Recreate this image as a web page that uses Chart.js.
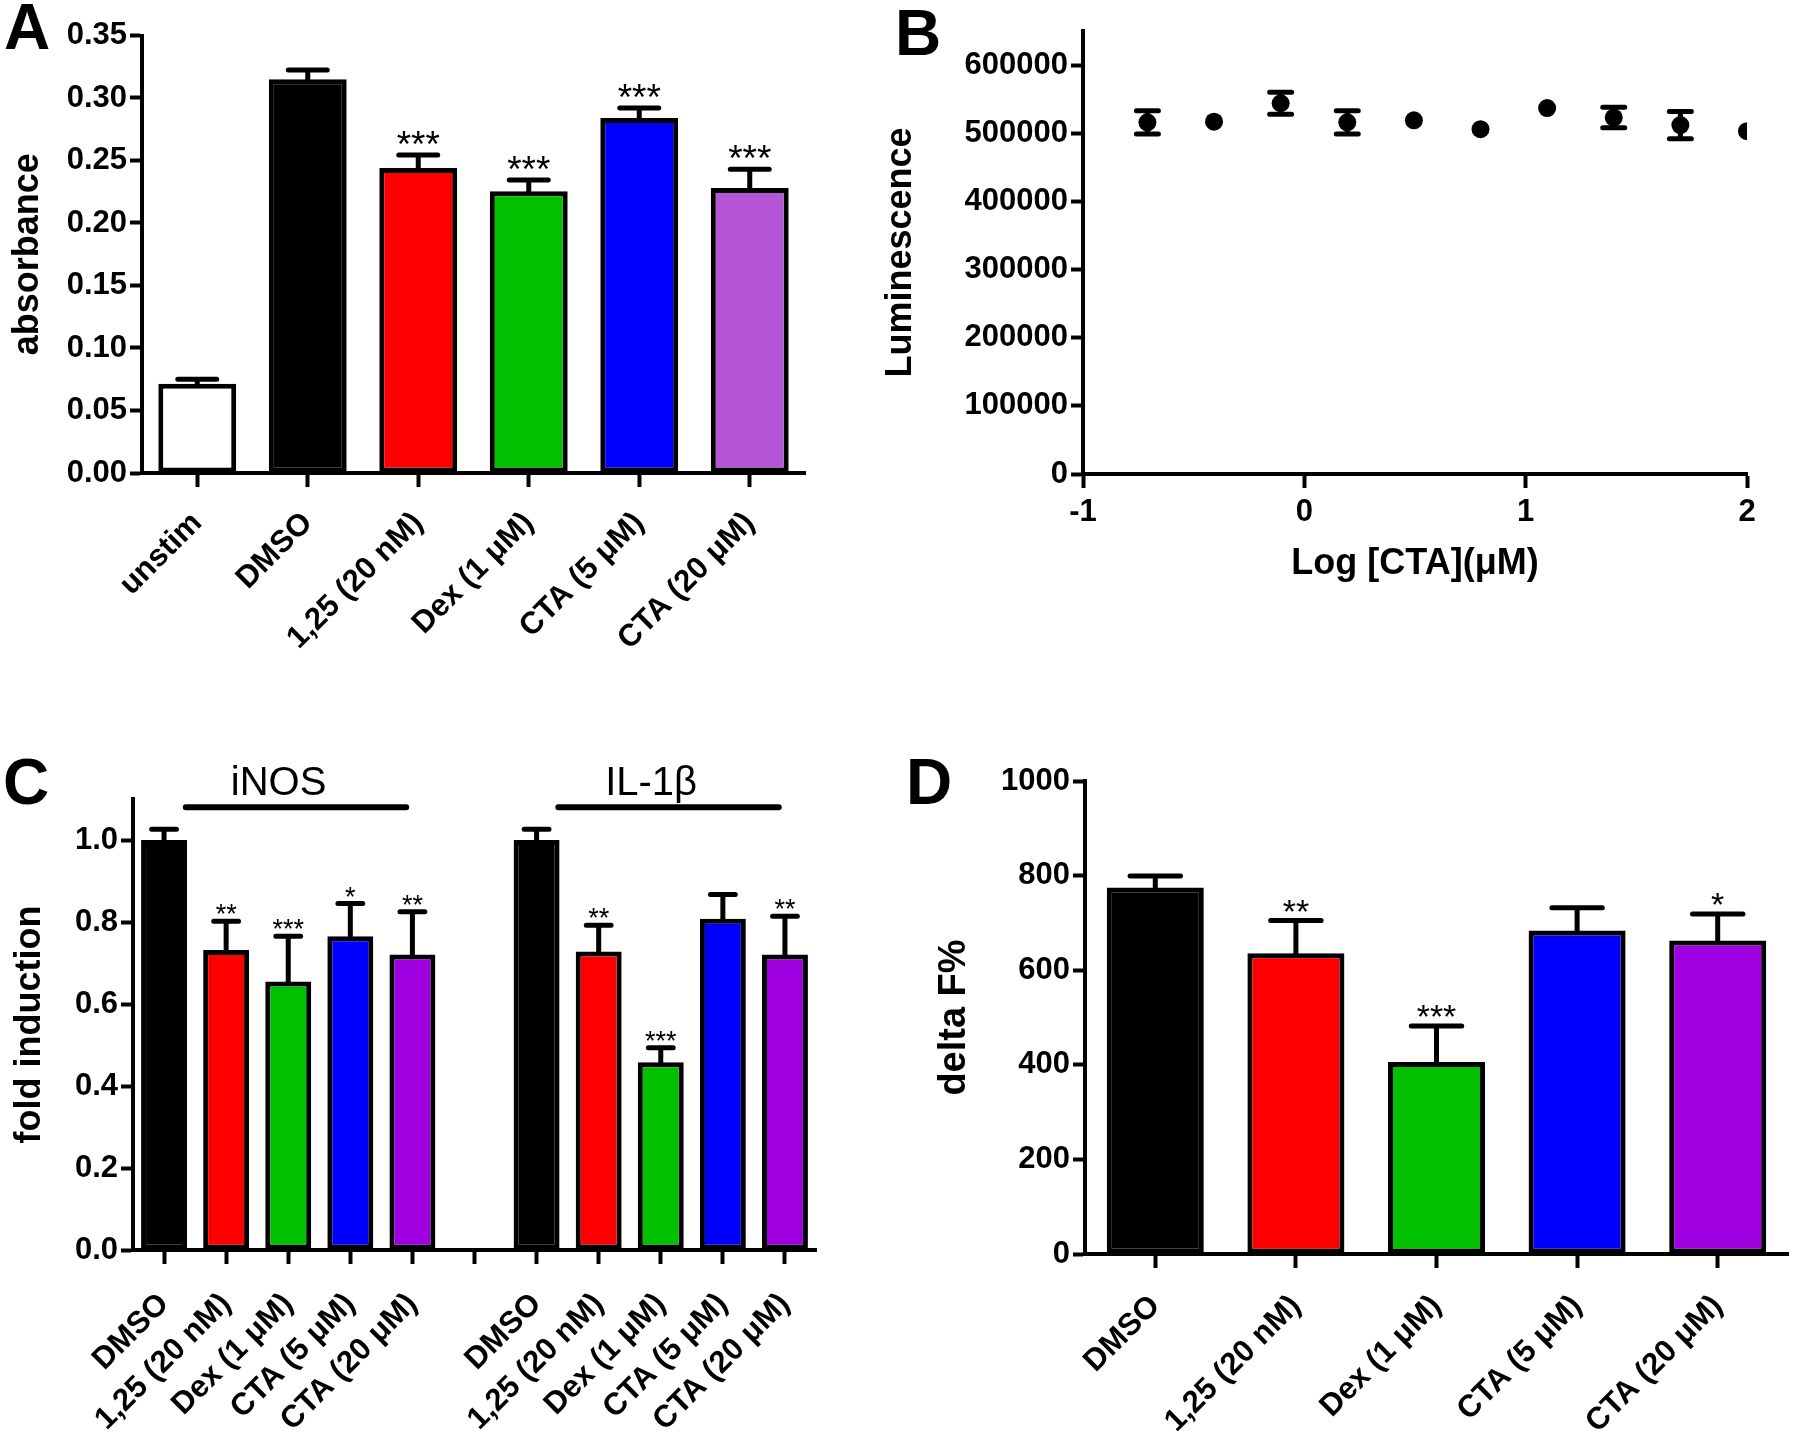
<!DOCTYPE html>
<html lang="en">
<head>
<meta charset="UTF-8">
<title>CTA figure</title>
<script src="https://cdn.jsdelivr.net/npm/chart.js"></script>
<style>
  body { margin: 0; background: #fff; }
  #fig { position: relative; width: 1800px; height: 1448px; overflow: hidden; background: #fff; }
  canvas { position: absolute; }
  .lbl { position: absolute; font: bold 64px 'Liberation Sans', Arial, sans-serif; line-height: 1; color: #000; }
</style>
</head>
<body>
<div id="fig">
  <canvas id="chartA" width="880" height="740" style="left:0;top:0"></canvas>
  <canvas id="chartB" width="940" height="640" style="left:860px;top:0"></canvas>
  <canvas id="chartC" width="880" height="708" style="left:0;top:740px"></canvas>
  <canvas id="chartD" width="920" height="708" style="left:880px;top:740px"></canvas>
  <div class="lbl" style="left:4px;top:-5px">A</div>
  <div class="lbl" style="left:895px;top:1px">B</div>
  <div class="lbl" style="left:3px;top:750px">C</div>
  <div class="lbl" style="left:906px;top:750px">D</div>
</div>
<script>
// panel A - absorbance
const catsA = ['unstim', 'DMSO', '1,25 (20 nM)', 'Dex (1 μM)', 'CTA (5 μM)', 'CTA (20 μM)'];
const valsA = [0.0715, 0.315, 0.244, 0.2255, 0.284, 0.228];
const errA = [0.0035, 0.0075, 0.0105, 0.009, 0.008, 0.015];
const starsA = ['', '', '***', '***', '***', '***'];
const colorsA = ['#ffffff', '#000000', '#ff0000', '#00c000', '#0000ff', '#b455d6'];
const ticksA = [0, 0.05, 0.10, 0.15, 0.20, 0.25, 0.30, 0.35];

// panel B - luminescence vs log conc
const logCTA = [-0.709, -0.408, -0.107, 0.194, 0.495, 0.796, 1.097, 1.398, 1.699, 2.0];
const lumi = [516000, 517000, 544000, 516000, 519000, 506000, 537000, 523000, 512000, 503000];
const lumiErr = [17000, 0, 16000, 17000, 0, 0, 0, 15000, 20000, 0];
const ticksB = [0, 100000, 200000, 300000, 400000, 500000, 600000];
const ticksBx = [-1, 0, 1, 2];

// panel C - fold induction, two genes
const catsC = ['DMSO', '1,25 (20 nM)', 'Dex (1 μM)', 'CTA (5 μM)', 'CTA (20 μM)', '',
               'DMSO', '1,25 (20 nM)', 'Dex (1 μM)', 'CTA (5 μM)', 'CTA (20 μM)'];
const valsC = [1.0, 0.732, 0.655, 0.765, 0.721, null, 1.0, 0.728, 0.458, 0.808, 0.721];
const errC = [0.026, 0.07, 0.11, 0.08, 0.104, 0, 0.026, 0.064, 0.035, 0.059, 0.093];
const starsC = ['', '**', '***', '*', '**', '', '', '**', '***', '', '**'];
const colorsC = ['#000000', '#ff0000', '#00c000', '#0000ff', '#a000e0', '#ffffff',
                 '#000000', '#ff0000', '#00c000', '#0000ff', '#a000e0'];
const ticksC = [0, 0.2, 0.4, 0.6, 0.8, 1.0];
const groupNames = ['iNOS', 'IL-1β'];
const groupSpans = [[0, 4], [6, 10]];

// panel D - delta F%
const catsD = ['DMSO', '1,25 (20 nM)', 'Dex (1 μM)', 'CTA (5 μM)', 'CTA (20 μM)'];
const valsD = [775, 636, 406, 684, 663];
const errD = [24, 69, 76, 48, 56];
const starsD = ['', '**', '***', '', '*'];
const colorsD = ['#000000', '#ff0000', '#00c000', '#0000ff', '#a000e0'];
const ticksD = [0, 200, 400, 600, 800, 1000];

const FONT = "'Liberation Sans', Arial, sans-serif";
Chart.defaults.font.family = FONT;
Chart.defaults.color = '#000';
Chart.defaults.animation = false;
Chart.defaults.plugins.legend.display = false;
Chart.defaults.plugins.tooltip.enabled = false;

function yAxis(min, max, tickVals, width, fmt, title, titleSize, titlePad) {
  return {
    min: min, max: max,
    afterFit: s => { s.width = width; },
    afterBuildTicks: s => { s.ticks = tickVals.map(v => ({ value: v })); },
    border: { display: true, color: '#000', width: 4 },
    grid: { drawOnChartArea: false, drawTicks: true, tickLength: 12, tickWidth: 4, tickColor: '#000' },
    ticks: { padding: 3, color: '#000', font: { size: 31, weight: 'bold' }, callback: fmt },
    title: { display: true, text: title, color: '#000', font: { size: titleSize, weight: 'bold' }, padding: { top: titlePad, bottom: 0 } }
  };
}

function xCat(height, pad) {
  return {
    afterFit: s => { s.height = height; },
    border: { display: true, color: '#000', width: 4 },
    grid: { offset: false, drawOnChartArea: false, drawTicks: true, tickLength: 14, tickWidth: 4, tickColor: '#000' },
    ticks: { minRotation: 45, maxRotation: 45, autoSkip: false, padding: pad, color: '#000', font: { size: 31, weight: 'bold' } }
  };
}

// error bar (upper only) + significance stars over bars
function barExtras(errs, stars, capFrac, starSize) {
  return {
    id: 'barExtras',
    afterDatasetsDraw(chart) {
      const ctx = chart.ctx, y = chart.scales.y;
      const ds = chart.data.datasets[0];
      const meta = chart.getDatasetMeta(0);
      ctx.save();
      ctx.strokeStyle = '#000';
      ctx.fillStyle = '#000';
      ctx.lineWidth = 5;
      ctx.lineCap = 'round';
      meta.data.forEach((bar, i) => {
        const v = ds.data[i];
        if (v == null) return;
        const top = y.getPixelForValue(v);
        const capY = y.getPixelForValue(v + errs[i]);
        const half = bar.width * capFrac / 2;
        ctx.beginPath();
        ctx.moveTo(bar.x, top);
        ctx.lineTo(bar.x, capY);
        ctx.moveTo(bar.x - half, capY);
        ctx.lineTo(bar.x + half, capY);
        ctx.stroke();
        if (stars[i]) {
          ctx.font = starSize + 'px ' + FONT;
          ctx.textAlign = 'center';
          ctx.textBaseline = 'alphabetic';
          ctx.fillText(stars[i], bar.x, capY + 2);
        }
      });
      ctx.restore();
    }
  };
}

function barSet(vals, colors, pct) {
  return [{ data: vals, backgroundColor: colors, borderColor: '#000', borderWidth: 5,
            borderSkipped: false, barPercentage: pct, categoryPercentage: 1 }];
}

// A
new Chart(document.getElementById('chartA'), {
  type: 'bar',
  data: { labels: catsA, datasets: barSet(valsA, colorsA, 0.705) },
  options: {
    responsive: false, devicePixelRatio: 1,
    layout: { padding: { left: 0, top: 35.5, right: 75, bottom: 0 } },
    scales: {
      x: xCat(267, 18),
      y: yAxis(0, 0.35, ticksA, 142, v => v.toFixed(2), 'absorbance', 36, 6)
    }
  },
  plugins: [barExtras(errA, starsA, 0.5, 37)]
});

// B
const errPlugin = {
  id: 'errB',
  afterDatasetsDraw(chart) {
    const ctx = chart.ctx, x = chart.scales.x, y = chart.scales.y;
    ctx.save();
    ctx.strokeStyle = '#000';
    ctx.lineWidth = 5;
    ctx.lineCap = 'round';
    logCTA.forEach((lx, i) => {
      if (!lumiErr[i]) return;
      const px = x.getPixelForValue(lx);
      const lo = y.getPixelForValue(lumi[i] - lumiErr[i]);
      const hi = y.getPixelForValue(lumi[i] + lumiErr[i]);
      ctx.beginPath();
      ctx.moveTo(px, lo); ctx.lineTo(px, hi);
      ctx.moveTo(px - 11, lo); ctx.lineTo(px + 11, lo);
      ctx.moveTo(px - 11, hi); ctx.lineTo(px + 11, hi);
      ctx.stroke();
    });
    ctx.restore();
  }
};

new Chart(document.getElementById('chartB'), {
  type: 'scatter',
  data: { datasets: [{ data: logCTA.map((v, i) => ({ x: v, y: lumi[i] })),
                       pointRadius: 9, pointBackgroundColor: '#000', pointBorderWidth: 0 }] },
  options: {
    responsive: false, devicePixelRatio: 1,
    layout: { padding: { left: 0, top: 31, right: 53, bottom: 0 } },
    scales: {
      x: {
        type: 'linear', min: -1, max: 2,
        afterFit: s => { s.height = 166; },
        afterBuildTicks: s => { s.ticks = ticksBx.map(v => ({ value: v })); },
        border: { display: true, color: '#000', width: 4 },
        grid: { drawOnChartArea: false, drawTicks: true, tickLength: 14, tickWidth: 4, tickColor: '#000' },
        ticks: { padding: 6, color: '#000', font: { size: 31, weight: 'bold' }, callback: v => String(v) },
        title: { display: true, text: 'Log [CTA](μM)', color: '#000', font: { size: 36, weight: 'bold' }, padding: { top: 0, bottom: 54 } }
      },
      y: yAxis(0, 650000, ticksB, 223, v => String(v), 'Luminescence', 36, 19)
    }
  },
  plugins: [errPlugin]
});

// C
const groupPlugin = {
  id: 'groups',
  afterDraw(chart) {
    const ctx = chart.ctx, x = chart.scales.x, y = chart.scales.y;
    const step = x.getPixelForTick(1) - x.getPixelForTick(0);
    const ly = y.getPixelForValue(1.08);
    ctx.save();
    groupNames.forEach((name, g) => {
      const x0 = x.getPixelForTick(groupSpans[g][0]) + 0.35 * step;
      const x1 = x.getPixelForTick(groupSpans[g][1]) - 0.1 * step;
      ctx.strokeStyle = '#000';
      ctx.lineWidth = 6;
      ctx.lineCap = 'round';
      ctx.beginPath();
      ctx.moveTo(x0, ly);
      ctx.lineTo(x1, ly);
      ctx.stroke();
      ctx.fillStyle = '#000';
      ctx.font = '40px ' + FONT;
      ctx.textAlign = 'center';
      ctx.textBaseline = 'alphabetic';
      ctx.fillText(name, (x0 + x1) / 2 - 0.28 * step, ly - 12);
    });
    ctx.restore();
  }
};

new Chart(document.getElementById('chartC'), {
  type: 'bar',
  data: { labels: catsC, datasets: barSet(valsC, colorsC, 0.74) },
  options: {
    responsive: false, devicePixelRatio: 1,
    layout: { padding: { left: 0, top: 59, right: 64, bottom: 0 } },
    scales: {
      x: xCat(198, 22),
      y: yAxis(0, 1.1, ticksC, 133, v => v.toFixed(1), 'fold induction', 36, 8)
    }
  },
  plugins: [barExtras(errC, starsC, 0.54, 27), groupPlugin]
});

// D
new Chart(document.getElementById('chartD'), {
  type: 'bar',
  data: { labels: catsD, datasets: barSet(valsD, colorsD, 0.69) },
  options: {
    responsive: false, devicePixelRatio: 1,
    layout: { padding: { left: 0, top: 41, right: 12, bottom: 0 } },
    scales: {
      x: xCat(194, 20),
      y: yAxis(0, 1000, ticksD, 205, v => String(v), 'delta F%', 38, 52)
    }
  },
  plugins: [barExtras(errD, starsD, 0.52, 34)]
});
</script>
</body>
</html>
